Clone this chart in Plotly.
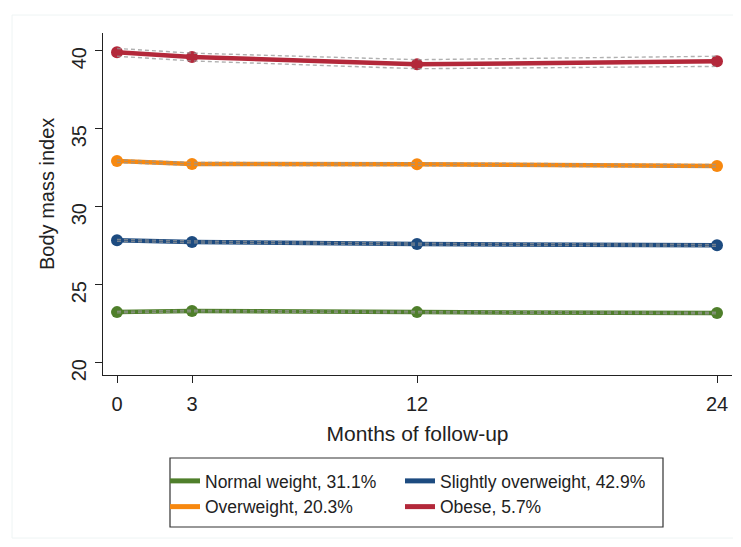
import plotly.graph_objects as go

months = [0, 3, 12, 24]
x_ticks = [0, 3, 12, 24]
y_ticks = [20, 25, 30, 35, 40]

names = ["Normal weight, 31.1%", "Slightly overweight, 42.9%", "Overweight, 20.3%", "Obese, 5.7%"]
colors = ["#4f7f2b", "#1d4b80", "#f7880f", "#b3283a"]

normal = [23.20, 23.27, 23.20, 23.14]
normal_lo = [23.15, 23.22, 23.15, 23.09]
normal_hi = [23.25, 23.32, 23.25, 23.19]

slight = [27.80, 27.70, 27.56, 27.48]
slight_lo = [27.74, 27.64, 27.50, 27.42]
slight_hi = [27.86, 27.76, 27.62, 27.54]

over = [32.88, 32.70, 32.68, 32.57]
over_lo = [32.79, 32.61, 32.59, 32.48]
over_hi = [32.97, 32.79, 32.77, 32.66]

obese = [39.85, 39.55, 39.08, 39.28]
obese_lo = [39.60, 39.30, 38.80, 38.95]
obese_hi = [40.10, 39.80, 39.38, 39.60]

series = [
    (normal, normal_lo, normal_hi),
    (slight, slight_lo, slight_hi),
    (over, over_lo, over_hi),
    (obese, obese_lo, obese_hi),
]
legend_slot = ["legend", "legend2", "legend", "legend2"]

FONT = "Liberation Sans, Arial, sans-serif"
fig = go.Figure()

for i, (vals, lo, hi) in enumerate(series):
    c = colors[i]
    fig.add_trace(go.Scatter(x=months, y=vals, mode="lines+markers",
                             line=dict(color=c, width=4.5),
                             marker=dict(color=c, size=12, symbol="circle"),
                             showlegend=False, hoverinfo="skip"))
    for band in (lo, hi):
        fig.add_trace(go.Scatter(x=months, y=band, mode="lines",
                                 line=dict(color="rgba(150,150,150,0.75)", width=1.4, dash="4px,3px"),
                                 showlegend=False, hoverinfo="skip"))

for i in [0, 1, 2, 3]:
    fig.add_trace(go.Scatter(x=[None], y=[None], mode="lines",
                             line=dict(color=colors[i], width=5),
                             name=names[i], showlegend=True, legend=legend_slot[i]))

OFF = 8  # default page body margin
W, H = 741 - OFF, 547 - OFF
L, T = 103 - OFF, 33 - OFF
R = W - (732 - OFF)
B = H - (375 - OFF)
pw = W - L - R
ph = H - T - B

def px_x(p):
    return (p - OFF - L) / pw

def px_y(p):
    return (H - B - (p - OFF)) / ph

leg_common = dict(orientation="v", xanchor="left", yanchor="top", itemwidth=30,
                  font=dict(size=17.5, color="#222222"), bgcolor="rgba(0,0,0,0)",
                  borderwidth=0, traceorder="normal", tracegroupgap=0)

fig.update_layout(
    width=W, height=H,
    margin=dict(l=L, r=R, t=T, b=B, autoexpand=False),
    paper_bgcolor="white", plot_bgcolor="white",
    font=dict(family=FONT, size=20, color="#222222"),
    xaxis=dict(range=[-0.56, 24.6], tickvals=x_ticks, ticktext=[str(v) for v in x_ticks],
               showgrid=False, zeroline=False, showline=True, linecolor="#222222", linewidth=1.2,
               ticks="outside", ticklen=7, tickcolor="#222222", tickwidth=1.2,
               tickfont=dict(size=20), ticklabelstandoff=4, automargin=False,
               title=dict(text="Months of follow-up", font=dict(size=21), standoff=12)),
    yaxis=dict(range=[19.17, 41.09], tickvals=y_ticks, ticktext=[str(v) for v in y_ticks],
               showgrid=False, zeroline=False, showline=True, linecolor="#222222", linewidth=1.2,
               ticks="outside", ticklen=7, tickcolor="#222222", tickwidth=1.2,
               tickangle=-89.9, tickfont=dict(size=20), automargin=False,
               ticklabelstandoff=15),
    annotations=[
        dict(text="Body mass index", xref="paper", yref="paper",
             x=px_x(47), y=px_y(194), xanchor="center", yanchor="middle",
             textangle=-90, showarrow=False, font=dict(size=20, color="#222222")),
    ],
    legend=dict(x=px_x(165), y=px_y(463), **leg_common),
    legend2=dict(x=px_x(400), y=px_y(463), **leg_common),
    shapes=[
        dict(type="rect", xref="paper", yref="paper",
             x0=px_x(170), x1=px_x(663), y0=px_y(527), y1=px_y(458),
             line=dict(color="#333333", width=1.2), fillcolor="rgba(0,0,0,0)"),
        dict(type="rect", xref="paper", yref="paper",
             x0=px_x(12), x1=px_x(740), y0=px_y(538), y1=px_y(15),
             line=dict(color="#eef4f4", width=1), fillcolor="rgba(0,0,0,0)", layer="below"),
    ],
)

fig.write_html("out.html")
